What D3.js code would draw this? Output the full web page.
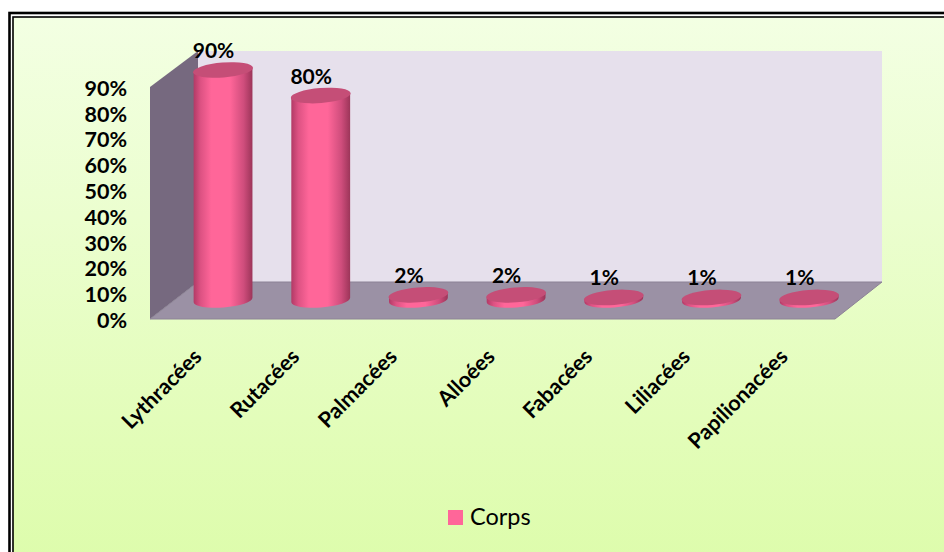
<!DOCTYPE html>
<html>
<head>
<meta charset="utf-8">
<script src="https://cdnjs.cloudflare.com/ajax/libs/d3/7.8.5/d3.min.js"></script>
<style>
    html, body { margin: 0; padding: 0; background: #fff; }
    svg { display: block; }
    text { font-family: Lato, "Open Sans", sans-serif; fill: #000; }
</style>
</head>
<body>
<div id="frame"></div>
<script>
// DATA
const categories = ["Lythracées", "Rutacées", "Palmacées", "Alloées", "Fabacées", "Liliacées", "Papilionacées"];
const values = [90, 80, 2, 2, 1, 1, 1];
const tickValues = [0, 10, 20, 30, 40, 50, 60, 70, 80, 90];
const seriesName = "Corps";

// CHART VARIABLES
const width = 944;
const height = 552;
const tilt = -4.5;
const rx = 29.5;
const ry = 7.5;

const svg = d3.select("#frame")
    .append("svg")
        .attr("width", width)
        .attr("height", height);

const defs = svg.append("defs");

// panel background
const bgGrad = defs.append("linearGradient")
    .attr("id", "bg-grad")
    .attr("x1", 0).attr("y1", 0).attr("x2", 0).attr("y2", 1);
bgGrad.append("stop").attr("offset", "0%").attr("stop-color", "#f3ffe3");
bgGrad.append("stop").attr("offset", "100%").attr("stop-color", "#dbfca6");

// cylinder shading
const barGrad = defs.append("linearGradient")
    .attr("id", "bar-grad")
    .attr("x1", 0).attr("y1", 0).attr("x2", 1).attr("y2", 0);
[[0, "#b23a66"], [0.12, "#dd5283"], [0.3, "#ff6699"], [0.62, "#ff6699"], [0.85, "#cf4d7c"], [1, "#9c3559"]]
    .forEach(s => barGrad.append("stop").attr("offset", s[0]).attr("stop-color", s[1]));

// SCALES
// axis sits on the front plane of the box, the bars further back
const yAxisScale = d3.scaleLinear().domain([0, 90]).range([319, 87]);
const yBar = d3.scaleLinear().domain([0, 90]).range([300, 70]);
const x = d3.scaleBand()
    .domain(categories)
    .range([174.2, 858])
    .paddingInner(0.4)
    .paddingOuter(0.2);

// PANEL
svg.append("rect")
    .attr("x", 9.5).attr("y", 13)
    .attr("width", 1000).attr("height", 600)
    .attr("fill", "none")
    .attr("stroke", "#000")
    .attr("stroke-width", 2.6);
svg.append("rect")
    .attr("x", 13).attr("y", 17)
    .attr("width", 1000).attr("height", 600)
    .attr("fill", "url(#bg-grad)")
    .attr("stroke", "#000")
    .attr("stroke-width", 1.6);

// 3D BOX
const box = svg.append("g").attr("class", "box");
const fx0 = 150, fx1 = 835, bx0 = 198, bx1 = 882;
const yFront = yAxisScale(0), yFrontTop = yAxisScale(90);
const yBack = 282, yBackTop = 51;

box.append("rect")
    .attr("x", bx0).attr("y", yBackTop)
    .attr("width", bx1 - bx0).attr("height", yBack - yBackTop)
    .attr("fill", "#e6e0ec");
box.append("path")
    .attr("d", d3.line()([[fx0, yFrontTop], [bx0, yBackTop], [bx0, yBack], [fx0, yFront]]) + "Z")
    .attr("fill", "#76697f");
box.append("path")
    .attr("d", d3.line()([[fx0, yFront], [bx0, yBack], [bx1, yBack], [fx1, yFront]]) + "Z")
    .attr("fill", "#9b91a5")
    .attr("stroke", "#8c8296")
    .attr("stroke-width", 1);

// CYLINDERS
const sinT = Math.sin(tilt * Math.PI / 180);
const cosT = Math.cos(tilt * Math.PI / 180);

const bars = svg.append("g")
        .attr("class", "g-bars")
    .selectAll("g")
    .data(categories)
    .enter()
    .append("g");

bars.append("path")
    .attr("fill", "url(#bar-grad)")
    .attr("d", (d, i) => {
        const cx = x(d) + x.bandwidth() / 2;
        const top = yBar(values[i]);
        const base = yBar(0);
        const dx = rx * cosT;
        const dy = rx * sinT;
        return "M " + (cx - dx) + " " + (top - dy)
            + " L " + (cx - dx) + " " + (base - dy)
            + " A " + rx + " " + ry + " " + tilt + " 0 0 " + (cx + dx) + " " + (base + dy)
            + " L " + (cx + dx) + " " + (top + dy)
            + " Z";
    });

// cap a touch wider so it reaches the body edges
bars.append("ellipse")
    .attr("cx", 0).attr("cy", 0)
    .attr("rx", rx + 0.5).attr("ry", ry)
    .attr("fill", "#c54e77")
    .attr("transform", (d, i) => "translate(" + (x(d) + x.bandwidth() / 2) + "," + yBar(values[i]) + ") rotate(" + tilt + ")");

// VALUE LABELS
svg.append("g")
        .attr("class", "g-values")
    .selectAll("text")
    .data(categories)
    .enter()
    .append("text")
        .attr("x", d => x(d) + x.bandwidth() / 2 - 9.5)
        .attr("y", (d, i) => yBar(values[i]) - 12)
        .attr("text-anchor", "middle")
        .attr("font-size", 21)
        .attr("font-weight", 700)
        .text((d, i) => values[i] + "%");

// Y AXIS
const yAxis = d3.axisLeft(yAxisScale)
    .tickValues(tickValues)
    .tickFormat(d => d + "%")
    .tickSize(0)
    .tickPadding(23);
const yG = svg.append("g")
    .attr("class", "y-axis")
    .attr("transform", "translate(150,1.5)")
    .call(yAxis);
yG.select(".domain").remove();
yG.selectAll("text")
    .attr("font-size", 21.5)
    .attr("font-weight", 700)
    .style("font-family", "Lato, 'Open Sans', sans-serif");

// X AXIS
const xAxis = d3.axisBottom(x).tickSize(0).tickPadding(0);
const xG = svg.append("g")
    .attr("class", "x-axis")
    .call(xAxis);
xG.select(".domain").remove();
// tick groups already sit at the band centre
xG.selectAll("text")
    .attr("y", 0).attr("dy", 0)
    .attr("text-anchor", "end")
    .attr("font-size", 21.5)
    .attr("font-weight", 700)
    .style("font-family", "Lato, 'Open Sans', sans-serif")
    .attr("transform", "translate(-20,358) rotate(-45)");

// LEGEND
const legend = svg.append("g").attr("class", "legend");
legend.append("rect")
    .attr("x", 448).attr("y", 510)
    .attr("width", 15).attr("height", 15)
    .attr("fill", "#ff6699");
legend.append("text")
    .attr("x", 470).attr("y", 525)
    .attr("font-size", 23.5)
    .text(seriesName);
</script>
</body>
</html>
